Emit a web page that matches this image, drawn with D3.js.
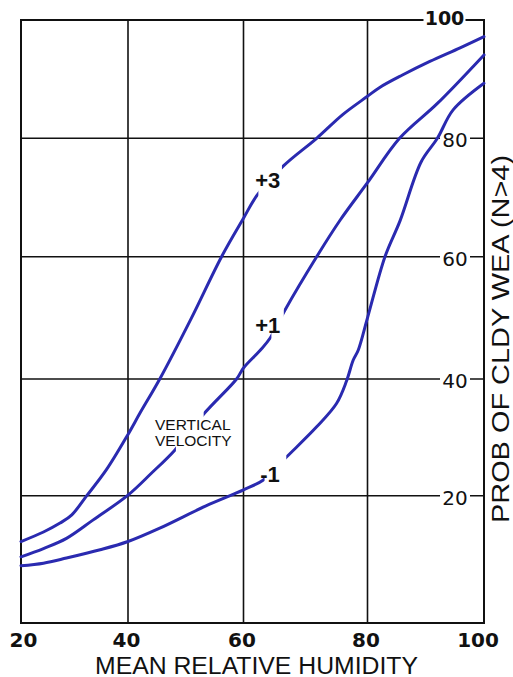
<!DOCTYPE html>
<html>
<head>
<meta charset="utf-8">
<script src="https://cdn.jsdelivr.net/npm/d3@7/dist/d3.min.js"></script>
<style>
  html, body { margin: 0; padding: 0; background: #fff; }
  svg { display: block; }
</style>
</head>
<body>
<svg id="chart" width="513" height="677"></svg>
<script>
// ---------- data ----------
const humidityTicks = [20, 40, 60, 80, 100];
const humidityTickLabels = ["20", "40", "60", "80", "100"];
const probTicks = [20, 40, 60, 80, 100];
const probTickLabels = ["20", "40", "60", "80", "100"];

// vertical velocity +3
const rhPlus3   = [20, 24.2, 27.3, 29.5, 32.3, 36, 40, 42.1, 45.5, 51, 56.2, 60, 62.2, 66.4, 71.8, 76, 80, 82.1, 86, 90.7, 95.9, 100];
const probPlus3 = [12.8, 14.3, 15.7, 17.0, 20, 24.5, 30.5, 34.2, 40, 50, 60, 66.5, 70.4, 75.3, 80, 84, 87.1, 88.6, 90.7, 93.0, 95.3, 97.2];
// vertical velocity +1
const rhPlus1   = [20, 24.2, 28.5, 33.5, 40, 44, 48.1, 53.3, 58.8, 60, 62.7, 64.3, 66.7, 71.8, 75.6, 80, 85.5, 92, 100];
const probPlus1 = [10.4, 11.7, 13.3, 16.2, 20.1, 23.8, 27.8, 34.2, 40, 41.8, 44.7, 46.7, 51.3, 60, 66.2, 72.5, 80, 85.9, 94.1];
// vertical velocity -1
const rhMinus1   = [20, 24.2, 28.5, 34.8, 40, 45.5, 53.5, 60, 63.2, 67.1, 71.8, 75, 76.6, 77.7, 78.5, 80, 83, 85.6, 89.2, 92, 94.7, 100];
const probMinus1 = [9.0, 9.4, 10.2, 11.5, 12.8, 14.9, 18.4, 21.0, 22.7, 26.8, 31.8, 35.8, 39.6, 43.1, 44.7, 50, 60, 66.1, 76, 80, 84.8, 89.3];

const seriesNames = ["+3", "+1", "-1"];
// gaps in each curve where its label sits (humidity ranges)
const gapsPlus3 = [[62.4, 66.2]];
const gapsPlus1 = [[48.3, 53.1], [64.5, 66.5]];
const gapsMinus1 = [[63.4, 66.9]];

// ---------- layout ----------
const svg = d3.select("#chart");
const x = d3.scaleLinear().domain([20, 40, 60, 80, 100]).range([21, 128, 243.5, 367.5, 484]);
const y = d3.scaleLinear().domain([0, 20, 40, 60, 80, 100]).range([623, 495.7, 379, 256.7, 138.3, 20]);

const curveColor = "#2a2ab0";
const ink = "#111";

// grid lines
svg.append("g").selectAll("line.v")
  .data(humidityTicks.slice(1, -1))
  .join("line")
  .attr("x1", d => x(d)).attr("x2", d => x(d))
  .attr("y1", y(0)).attr("y2", y(100))
  .attr("stroke", ink).attr("stroke-width", 1.6);

svg.append("g").selectAll("line.h")
  .data(probTicks.slice(0, -1))
  .join("line")
  .attr("x1", x(20)).attr("x2", x(100))
  .attr("y1", d => y(d)).attr("y2", d => y(d))
  .attr("stroke", ink).attr("stroke-width", 1.6);

// frame
svg.append("rect")
  .attr("x", x(20)).attr("y", y(100))
  .attr("width", x(100) - x(20)).attr("height", y(0) - y(100))
  .attr("fill", "none").attr("stroke", ink).attr("stroke-width", 2);

// right-side tick labels (with white background breaking the line)
const rightLabels = svg.append("g");
probTicks.forEach((v, i) => {
  const isTop = v === 100;
  const cx = isTop ? x(100) - 39.5 : x(100) - 29;
  const cy = isTop ? y(v) - 2.5 : y(v) + 2;
  const w = isTop ? 42 : 30;
  rightLabels.append("rect")
    .attr("x", cx - w / 2).attr("y", y(v) - 10)
    .attr("width", w).attr("height", 20)
    .attr("fill", "#fff");
  rightLabels.append("text")
    .attr("x", cx).attr("y", cy)
    .attr("text-anchor", "middle")
    .attr("dominant-baseline", "central")
    .attr("font-family", "'DejaVu Sans', sans-serif")
    .attr("font-size", isTop ? 19 : 20)
    .attr("font-weight", isTop ? "bold" : "normal")
    .attr("fill", ink)
    .text(probTickLabels[i]);
});

// bottom tick labels
svg.append("g").selectAll("text")
  .data(humidityTicks)
  .join("text")
  .attr("x", (d, i) => x(d) + (i === 0 ? 2.5 : (i === humidityTicks.length - 1 ? -6 : -1.5)))
  .attr("y", 647)
  .attr("text-anchor", "middle")
  .attr("font-family", "'DejaVu Sans', sans-serif")
  .attr("font-weight", "bold")
  .attr("font-size", 20)
  .attr("fill", ink)
  .text((d, i) => humidityTickLabels[i]);

// axis titles
svg.append("text")
  .attr("x", 256.5).attr("y", 674)
  .attr("text-anchor", "middle")
  .attr("font-family", "'Liberation Sans', Arial, sans-serif")
  .attr("font-size", 23)
  .attr("textLength", 323)
  .attr("lengthAdjust", "spacingAndGlyphs")
  .attr("fill", ink)
  .text("MEAN RELATIVE HUMIDITY");

svg.append("text")
  .attr("transform", "translate(509,339) rotate(-90)")
  .attr("text-anchor", "middle")
  .attr("font-family", "'Liberation Sans', Arial, sans-serif")
  .attr("font-size", 23)
  .attr("textLength", 368)
  .attr("lengthAdjust", "spacingAndGlyphs")
  .attr("fill", ink)
  .text("PROB OF CLDY WEA (N>4)");

// curves
const series = [
  { name: seriesNames[0], xs: rhPlus3, ys: probPlus3, gaps: gapsPlus3 },
  { name: seriesNames[1], xs: rhPlus1, ys: probPlus1, gaps: gapsPlus1 },
  { name: seriesNames[2], xs: rhMinus1, ys: probMinus1, gaps: gapsMinus1 }
];

const defs = svg.append("defs");
const line = d3.line()
  .x(d => x(d[0]))
  .y(d => y(d[1]))
  .curve(d3.curveCatmullRom.alpha(0.5));

series.forEach((s, k) => {
  // clip path: union of x-intervals outside the gaps
  const edges = [20];
  s.gaps.forEach(g => { edges.push(g[0], g[1]); });
  edges.push(100);
  const cp = defs.append("clipPath").attr("id", "clip" + k);
  for (let i = 0; i < edges.length; i += 2) {
    const padL = i === 0 ? 5 : 0;
    const padR = i + 2 >= edges.length ? 5 : 0;
    cp.append("rect")
      .attr("x", x(edges[i]) - padL)
      .attr("y", 0)
      .attr("width", x(edges[i + 1]) - x(edges[i]) + padL + padR)
      .attr("height", 677);
  }
  const pts = s.xs.map((v, i) => [v, s.ys[i]]);
  svg.append("path")
    .datum(pts)
    .attr("d", line)
    .attr("clip-path", "url(#clip" + k + ")")
    .attr("fill", "none")
    .attr("stroke", curveColor)
    .attr("stroke-width", 3)
    .attr("stroke-linecap", "round")
    .attr("stroke-linejoin", "round");
});

// curve labels (left edge / baseline in data units)
const curveLabelX = [61.9, 61.9, 62.7];
const curveLabelY = [71.6, 47.5, 22.35];
svg.append("g").selectAll("text")
  .data(seriesNames)
  .join("text")
  .attr("x", (d, i) => x(curveLabelX[i]))
  .attr("y", (d, i) => y(curveLabelY[i]))
  .attr("font-family", "'Liberation Sans', Arial, sans-serif")
  .attr("font-weight", "bold")
  .attr("font-size", 22)
  .attr("fill", ink)
  .text(d => d);

// "VERTICAL VELOCITY" note
const note = svg.append("text")
  .attr("font-family", "'Liberation Sans', Arial, sans-serif")
  .attr("font-size", 15.5)
  .attr("fill", ink);
note.append("tspan").attr("x", 155).attr("y", 430).text("VERTICAL");
note.append("tspan").attr("x", 155).attr("y", 445.5).text("VELOCITY");
</script>
</body>
</html>
